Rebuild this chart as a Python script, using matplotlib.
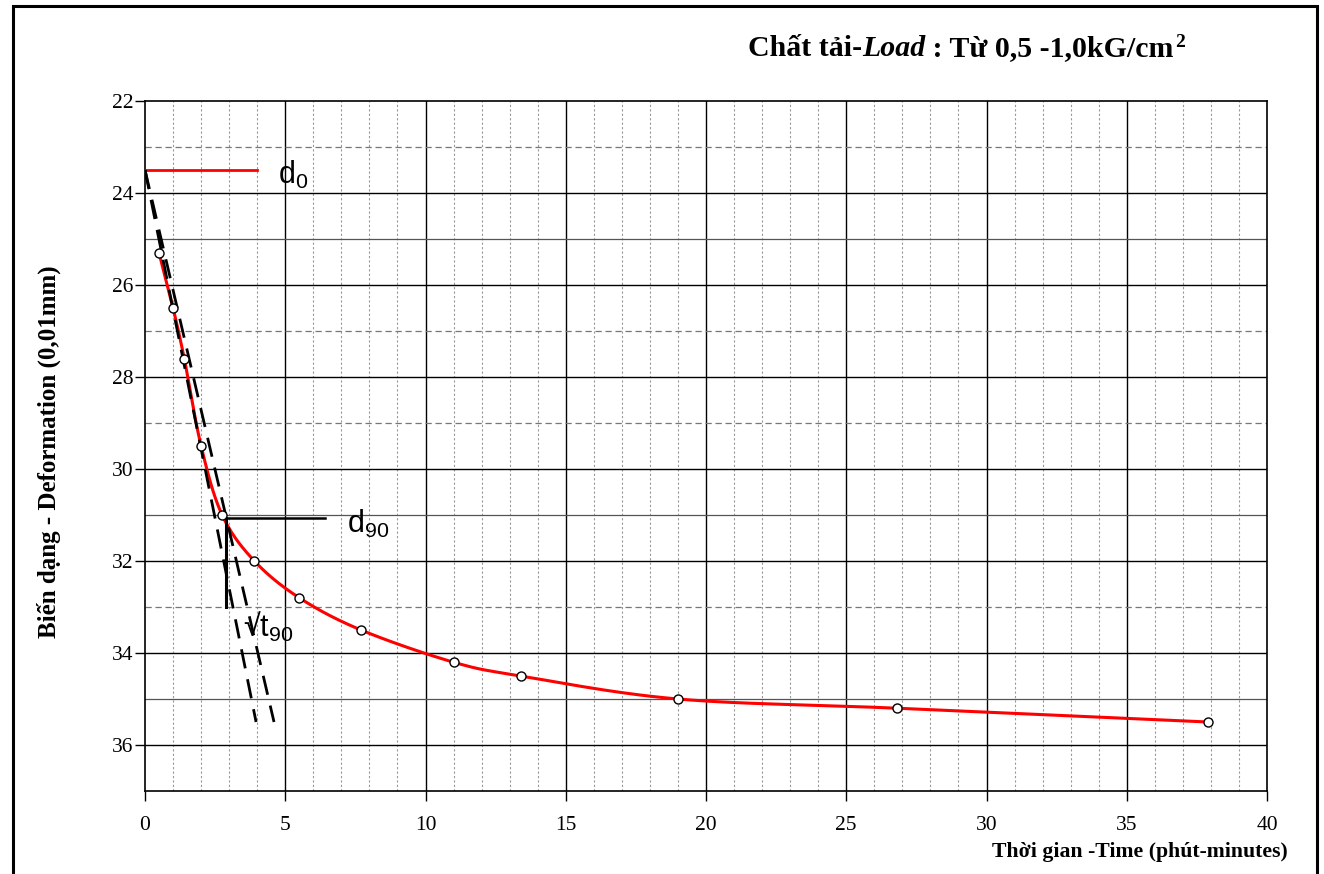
import numpy as np
import matplotlib
matplotlib.use("Agg")
import matplotlib.pyplot as plt
from matplotlib.patches import Rectangle

plt.rcParams["mathtext.default"] = "regular"

# readings (x = square root of time in minutes, y = deformation 0.01mm)
sqrt_time = [0.5, 1.0, 1.4, 2.0, 2.75, 3.9, 5.5, 7.7, 11.0, 13.4, 19.0, 26.8, 37.9]
deformation = [25.3, 26.5, 27.6, 29.5, 31.0, 32.0, 32.8, 33.5, 34.2, 34.5, 35.0, 35.2, 35.5]

# construction lines
d0 = 23.5
d0_line_x = [0, 4.0]
tangent1_x = [0, 3.96]
tangent1_y = [23.5, 35.5]
tangent2_x = [0, 4.6]
tangent2_y = [23.5, 35.5]
d90 = 31.07
d90_line_x = [2.9, 6.4]
t90_x = 2.88
t90_line_y = [31.07, 33.0]

SERIF = "Liberation Serif"
SANS = "Liberation Sans"


def smooth(xs, ys, yscale=1.64, n=30):
    # catmull-rom style curve like the spreadsheet's smoothed line
    p = np.column_stack([xs, np.array(ys) * yscale])
    p = np.vstack([p[0] - (p[1] - p[0]), p, p[-1] + (p[-1] - p[-2])])
    out = []
    t = np.linspace(0, 1, n)[:, None]
    for i in range(1, len(p) - 2):
        p0, p1, p2, p3 = p[i - 1], p[i], p[i + 1], p[i + 2]
        seg = 0.5 * ((2 * p1) + (-p0 + p2) * t + (2 * p0 - 5 * p1 + 4 * p2 - p3) * t ** 2
                     + (-p0 + 3 * p1 - 3 * p2 + p3) * t ** 3)
        out.append(seg)
    out = np.vstack(out)
    return out[:, 0], out[:, 1] / yscale


fig = plt.figure(figsize=(13.24, 8.74), dpi=100)
ax = fig.add_axes([145 / 1324, 1 - 791 / 874, (1267 - 145) / 1324, (791 - 101) / 874])

ax.set_xlim(0, 40)
ax.set_ylim(37, 22)

# grid lines
for x in range(1, 40):
    if x % 5 == 0:
        ax.axvline(x, color="black", lw=1.0, zorder=1)
    else:
        ax.axvline(x, color="#999999", lw=0.8, ls=(0, (2, 2)), zorder=1)
for y in range(23, 37):
    if y % 2 == 0:
        ax.axhline(y, color="black", lw=1.0, zorder=1)
    elif y in (25, 31, 35):
        ax.axhline(y, color="#555555", lw=0.9, zorder=1)
    else:
        ax.axhline(y, color="#777777", lw=0.9, ls=(0, (5, 3)), zorder=1)

ax.set_xticks(range(0, 41, 5))
ax.set_yticks(range(22, 37, 2))
ax.tick_params(direction="out", length=7, width=1, labelsize=15.5)
ax.tick_params(axis="x", pad=11)
ax.tick_params(axis="y", pad=1.5)
for lab in ax.get_xticklabels() + ax.get_yticklabels():
    lab.set_fontfamily(SERIF)
for s in ax.spines.values():
    s.set_linewidth(1.2)
    s.set_color("black")

# settlement curve
cx, cy = smooth(sqrt_time, deformation)
ax.plot(cx, cy, color="red", lw=2.2, zorder=3)
ax.plot(sqrt_time, deformation, ls="none", marker="o", ms=6.5, mfc="white",
        mec="black", mew=1.0, zorder=5)

# Taylor construction
ax.plot(d0_line_x, [d0, d0], color="red", lw=2.0, zorder=3)
ax.plot(tangent1_x, tangent1_y, color="black", lw=2.0, ls=(0, (7, 4)), zorder=4)
ax.plot(tangent2_x, tangent2_y, color="black", lw=2.0, ls=(0, (7, 4)), zorder=4)
ax.plot(d90_line_x, [d90, d90], color="black", lw=1.8, zorder=4)
ax.plot([t90_x, t90_x], t90_line_y, color="black", lw=2.2, zorder=4)

ax.text(4.75, 23.8, "d$_0$", fontsize=22, family=SANS, zorder=6)
ax.text(7.2, 31.4, "d$_{90}$", fontsize=22, family=SANS, zorder=6)
ax.text(3.5, 33.65, "√t$_{90}$", fontsize=22, family=SANS, zorder=6)

ax.set_ylabel("Biến dạng - Deformation (0,01mm)", fontsize=18, fontweight="bold",
              family=SERIF)
ax.yaxis.set_label_coords(-0.0745, 0.492)
fig.text(1288 / 1324, 1 - 852 / 874, "Thời gian -Time (phút-minutes)", fontsize=15.7,
         fontweight="bold", family=SERIF, ha="right", va="center")

# title with italic word, pieces chained one after another
t1 = fig.text(748 / 1324, 1 - 56 / 874, "Chất tải-", fontsize=21.5, fontweight="bold",
              family=SERIF, va="baseline")
t2 = ax.annotate("Load", xy=(1, 0), xycoords=t1, va="bottom", ha="left", fontsize=21.5,
                 fontweight="bold", style="italic", family=SERIF, annotation_clip=False)
t3 = ax.annotate(" : Từ 0,5 -1,0kG/cm", xy=(1, 0), xycoords=t2, va="bottom", ha="left",
                 fontsize=21.5, fontweight="bold", family=SERIF, annotation_clip=False)
ax.annotate("2", xy=(1, 1), xycoords=t3, va="top", ha="left", fontsize=14,
            fontweight="bold", family=SERIF, xytext=(1, 1), textcoords="offset points",
            annotation_clip=False)

# outer frame
fig.patches.append(Rectangle((13, -20), 1304, 874 - 6 + 20, transform=None, fill=False,
                             edgecolor="black", lw=2.2))

fig.savefig("out.png", dpi=100)
